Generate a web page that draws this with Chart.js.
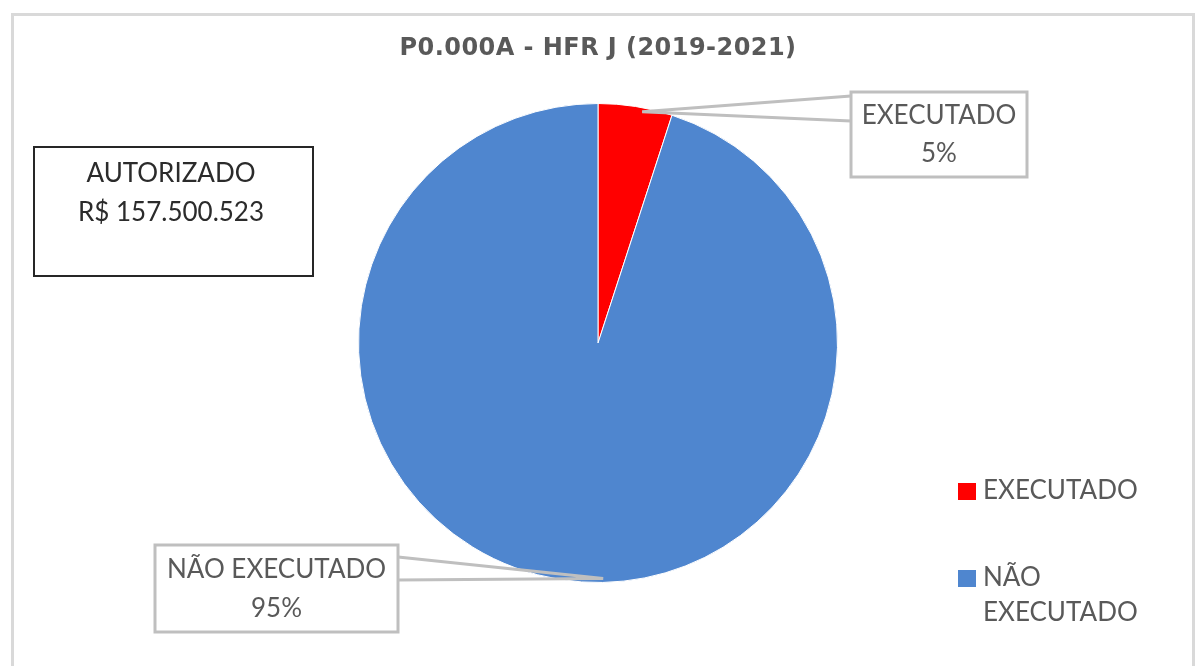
<!DOCTYPE html>
<html>
<head>
<meta charset="utf-8">
<script src="https://cdn.jsdelivr.net/npm/chart.js@4/dist/chart.umd.min.js"></script>
<style>
  html, body { margin: 0; padding: 0; background: #fff; }
  #wrap { width: 1204px; height: 666px; position: relative; }
</style>
</head>
<body>
<div id="wrap"><canvas id="pieChart" width="1204" height="666"></canvas></div>
<script>
const chartTitle = "P0.000A - HFR J (2019-2021)";
const sliceLabels = ["EXECUTADO", "NÃO EXECUTADO"];
const sliceValues = [5, 95];
const sliceColors = ["#ff0000", "#4f86cf"];
const legendLines = [["EXECUTADO"], ["NÃO", "EXECUTADO"]];
const authorizedLabel = "AUTORIZADO";
const authorizedValue = "R$ 157.500.523";

const FONT = "Lato, 'Open Sans', sans-serif";
const GREY_TEXT = "#595959";

// callout boxes: box rect + which side the leader leaves from
const callouts = [
  { x: 851, y: 92, w: 176, h: 85, side: "left", y1: 96, y2: 121, angFrac: 0.6 },
  { x: 155, y: 545, w: 243, h: 87, side: "right", y1: 557, y2: 580, angFrac: 0.47 },
];

const extras = {
  id: "extras",
  afterDraw(chart) {
    const ctx = chart.ctx;
    ctx.save();

    // outer frame
    ctx.strokeStyle = "#d9d9d9";
    ctx.lineWidth = 3;
    ctx.strokeRect(12.5, 14.5, 1181, 680);

    // title, fitted to the reference width
    ctx.fillStyle = GREY_TEXT;
    ctx.font = "bold 24px 'DejaVu Sans', sans-serif";
    ctx.textAlign = "center";
    ctx.textBaseline = "middle";
    const tw = ctx.measureText(chartTitle).width;
    ctx.letterSpacing = ((397 - tw) / chartTitle.length).toFixed(2) + "px";
    ctx.fillText(chartTitle, 598, 49);
    ctx.letterSpacing = "0px";

    // authorized box
    ctx.strokeStyle = "#262626";
    ctx.lineWidth = 2;
    ctx.strokeRect(34, 147, 279, 129);
    ctx.fillStyle = "#2b2b2b";
    ctx.font = "26px " + FONT;
    ctx.fillText(authorizedLabel, 171, 174);
    ctx.fillText(authorizedValue, 171, 213);

    // data callouts
    const meta = chart.getDatasetMeta(0);
    const total = sliceValues.reduce((a, b) => a + b, 0);
    meta.data.forEach((arc, i) => {
      const c = callouts[i];
      const p = arc.getProps(["x", "y", "startAngle", "endAngle", "outerRadius"], true);
      const ang = p.startAngle + (p.endAngle - p.startAngle) * c.angFrac;
      const ax = p.x + Math.cos(ang) * (p.outerRadius - 4);
      const ay = p.y + Math.sin(ang) * (p.outerRadius - 4);
      const ex = c.side === "left" ? c.x : c.x + c.w;

      ctx.fillStyle = "#ffffff";
      ctx.strokeStyle = "#bfbfbf";
      ctx.lineWidth = 3;
      ctx.beginPath();
      ctx.moveTo(ex, c.y1);
      ctx.lineTo(ax, ay);
      ctx.lineTo(ex, c.y2);
      ctx.stroke();
      ctx.fillRect(c.x, c.y, c.w, c.h);
      ctx.strokeRect(c.x, c.y, c.w, c.h);

      ctx.fillStyle = GREY_TEXT;
      ctx.font = "26px " + FONT;
      ctx.textAlign = "center";
      const pct = Math.round(sliceValues[i] / total * 100) + "%";
      ctx.fillText(sliceLabels[i], c.x + c.w / 2, c.y + c.h * 0.28);
      ctx.fillText(pct, c.x + c.w / 2, c.y + c.h * 0.73);
    });

    // legend
    const legendY = [491, 578];
    ctx.font = "26px " + FONT;
    ctx.textAlign = "left";
    legendLines.forEach((lines, i) => {
      ctx.fillStyle = sliceColors[i];
      ctx.fillRect(958, legendY[i] - 8, 18, 17);
      ctx.fillStyle = GREY_TEXT;
      lines.forEach((t, j) => ctx.fillText(t, 983, legendY[i] + j * 35));
    });

    ctx.restore();
  },
};

new Chart(document.getElementById("pieChart").getContext("2d"), {
  type: "pie",
  data: {
    labels: sliceLabels,
    datasets: [
      {
        data: sliceValues,
        backgroundColor: sliceColors,
        borderColor: "#ffffff",
        borderWidth: 1,
      },
    ],
  },
  options: {
    responsive: false,
    animation: false,
    layout: {
      padding: { left: 358, right: 366, top: 103, bottom: 83 },
    },
    plugins: {
      legend: { display: false },
      tooltip: { enabled: false },
    },
  },
  plugins: [extras],
});
</script>
</body>
</html>
